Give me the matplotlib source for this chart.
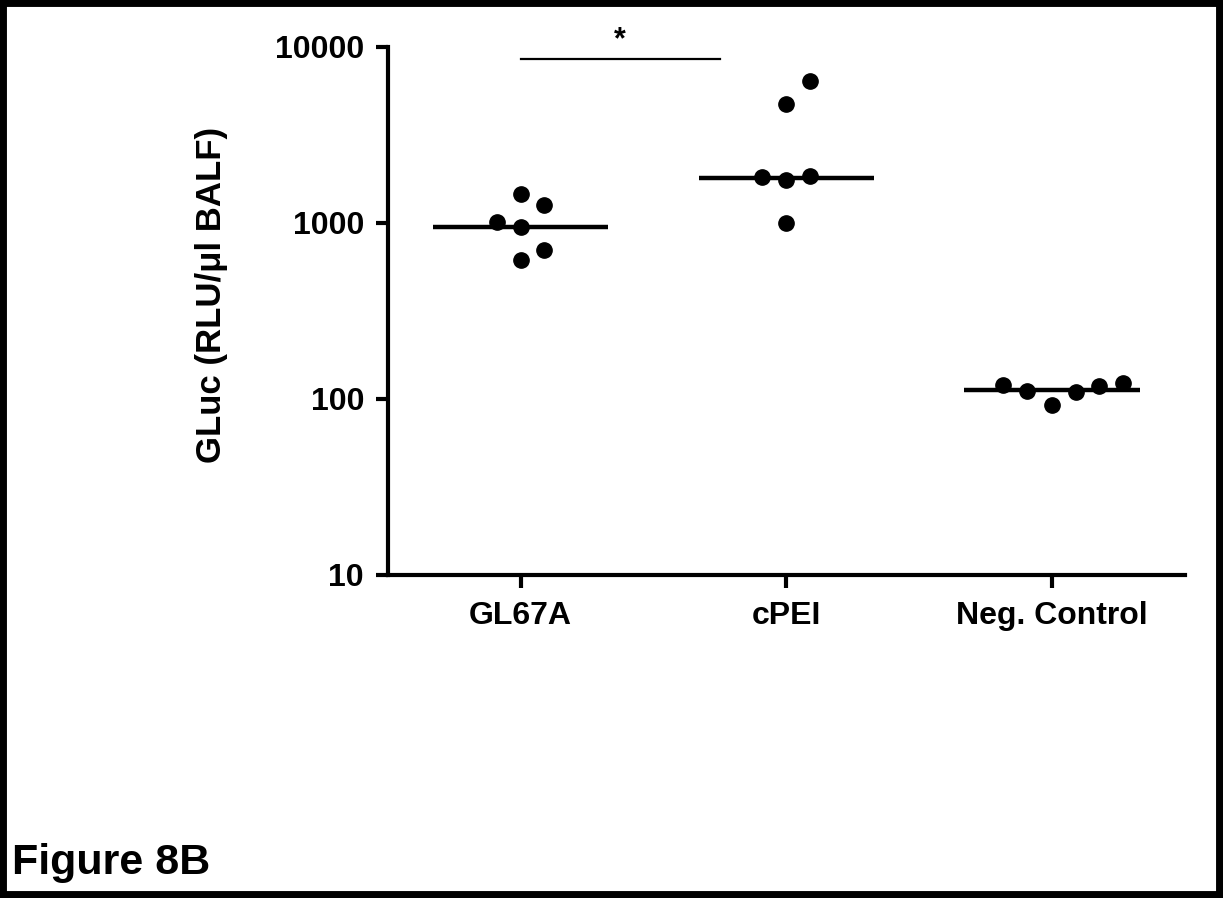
import numpy as np
import matplotlib
matplotlib.use("Agg")
import matplotlib.pyplot as plt
from matplotlib.patches import Rectangle

plt.rcParams['font.family'] = ['Liberation Sans', 'DejaVu Sans']
plt.rcParams['font.weight'] = 'bold'

# data
groups = ["GL67A", "cPEI", "Neg. Control"]
gl67a = [1455, 1253, 1004, 949, 697, 617]
gl67a_dx = [0.0, 0.087, -0.09, 0.0, 0.087, 0.0]
cpei = [6425, 4721, 1849, 1818, 1738, 995]
cpei_dx = [0.087, 0.0, 0.087, -0.09, 0.0, 0.0]
neg = [120, 110, 92, 109, 118, 123]
neg_dx = [-0.185, -0.094, 0.0, 0.09, 0.177, 0.268]
medians = [950, 1795, 112]
sig_y = 8500

fig = plt.figure(figsize=(12.23, 8.98), dpi=100)
ax = fig.add_axes([0.317, 0.360, 0.652, 0.588])

for i, (vals, dx) in enumerate([(gl67a, gl67a_dx), (cpei, cpei_dx), (neg, neg_dx)]):
    ax.plot(np.array(dx) + i, vals, 'o', color='black', ms=11, zorder=3,
            clip_on=False)
    ax.plot([i - 0.33, i + 0.33], [medians[i]] * 2, color='black', lw=3.2,
            solid_capstyle='butt', zorder=2)

# significance bar
ax.plot([0, 0.75], [sig_y, sig_y], color='black', lw=1.6, clip_on=False)
ax.text(0.375, sig_y * 1.05, "*", ha='center', va='bottom', fontsize=22)

ax.set_yscale('log')
ax.set_ylim(10, 10000)
ax.set_xlim(-0.5, 2.5)
ax.set_yticks([10, 100, 1000, 10000])
ax.set_yticklabels(["10", "100", "1000", "10000"])
ax.minorticks_off()
ax.set_xticks(range(3))
ax.set_xticklabels(groups)
ax.tick_params(axis='both', labelsize=23, width=3, length=9, direction='out',
               pad=10)
ax.tick_params(axis='y', pad=8)
for s in ['top', 'right']:
    ax.spines[s].set_visible(False)
for s in ['left', 'bottom']:
    ax.spines[s].set_linewidth(3)
ax.set_ylabel("GLuc (RLU/\u03bcl BALF)", fontsize=25, fontweight='bold')
ax.yaxis.set_label_coords(-0.20, 0.53)

fig.text(0.010, 0.027, "Figure 8B", fontsize=31, ha='left', va='baseline')

# frame around the figure
fig.patches.append(Rectangle((0, 0), 1, 1, transform=fig.transFigure,
                             fill=False, edgecolor='black', lw=10))

fig.savefig("out.png", dpi=100)
